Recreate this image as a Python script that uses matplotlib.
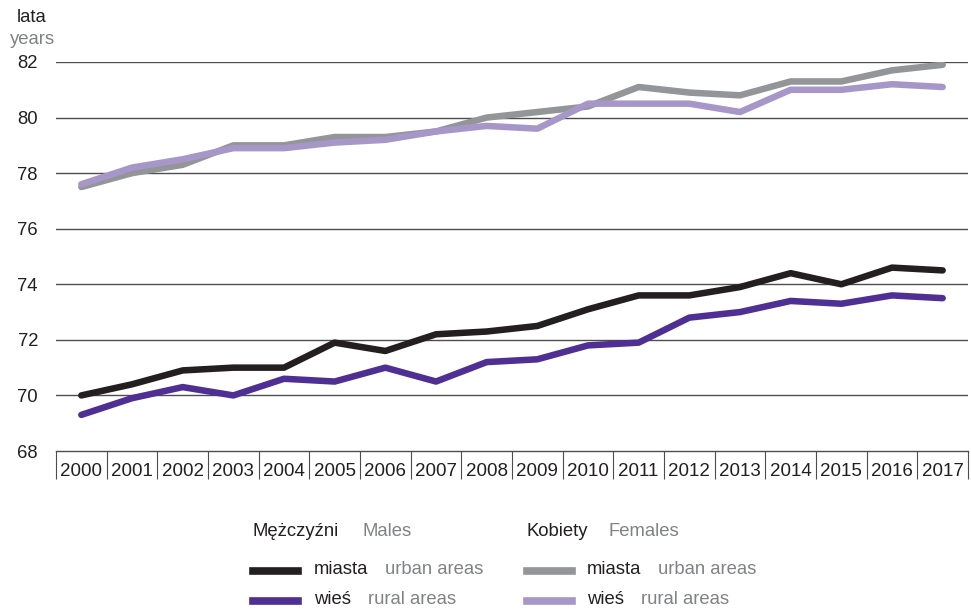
import matplotlib
matplotlib.use("Agg")
import matplotlib.pyplot as plt
from matplotlib.lines import Line2D
import numpy as np

years = ["2000", "2001", "2002", "2003", "2004", "2005", "2006", "2007", "2008",
         "2009", "2010", "2011", "2012", "2013", "2014", "2015", "2016", "2017"]
females_urban = [77.5, 78.0, 78.3, 79.0, 79.0, 79.3, 79.3, 79.5, 80.0, 80.2,
                 80.4, 81.1, 80.9, 80.8, 81.3, 81.3, 81.7, 81.9]
females_rural = [77.6, 78.2, 78.5, 78.9, 78.9, 79.1, 79.2, 79.5, 79.7, 79.6,
                 80.5, 80.5, 80.5, 80.2, 81.0, 81.0, 81.2, 81.1]
males_urban = [70.0, 70.4, 70.9, 71.0, 71.0, 71.9, 71.6, 72.2, 72.3, 72.5,
               73.1, 73.6, 73.6, 73.9, 74.4, 74.0, 74.6, 74.5]
males_rural = [69.3, 69.9, 70.3, 70.0, 70.6, 70.5, 71.0, 70.5, 71.2, 71.3,
               71.8, 71.9, 72.8, 73.0, 73.4, 73.3, 73.6, 73.5]
yticks = [68, 70, 72, 74, 76, 78, 80, 82]

C_BLACK = "#231f20"
C_PURPLE = "#4f2f94"
C_GRAY = "#939598"
C_LAV = "#a797c9"
C_TXTGRAY = "#808285"

plt.rcParams['font.family'] = ['Liberation Sans', 'DejaVu Sans']

W, H = 971, 613
fig = plt.figure(figsize=(W / 100, H / 100), dpi=100)
ax = fig.add_axes([56 / W, 1 - 451 / H, (968 - 56) / W, (451 - 62) / H])

x = np.arange(len(years))
lw = 4.7
ax.plot(x, females_urban, color=C_GRAY, lw=lw, solid_capstyle='round', solid_joinstyle='round', zorder=3)
ax.plot(x, females_rural, color=C_LAV, lw=lw, solid_capstyle='round', solid_joinstyle='round', zorder=4)
ax.plot(x, males_urban, color=C_BLACK, lw=lw, solid_capstyle='round', solid_joinstyle='round', zorder=4)
ax.plot(x, males_rural, color=C_PURPLE, lw=lw, solid_capstyle='round', solid_joinstyle='round', zorder=3)

ax.set_xlim(-0.5, len(years) - 0.5)
ax.set_ylim(68, 82)
ax.set_yticks(yticks)
ax.set_yticklabels([str(v) for v in yticks], fontsize=13.3, color=C_BLACK)
ax.tick_params(axis='y', length=0, pad=13)
for v in yticks[1:]:
    ax.axhline(v, color="#4d4d4f", lw=1.0, zorder=1)

ax.set_xticks(x)
ax.set_xticklabels(years, fontsize=13.5, color=C_BLACK)
ax.tick_params(axis='x', which='major', length=0, pad=9)
ax.set_xticks(np.arange(-0.5, len(years), 1.0), minor=True)
ax.tick_params(axis='x', which='minor', length=20, width=0.8, color="#4d4d4f", direction='out')

for s in ['top', 'right', 'left']:
    ax.spines[s].set_visible(False)
ax.spines['bottom'].set_color("#4d4d4f")
ax.spines['bottom'].set_linewidth(1.0)

def fx(px):
    return px / W

def fy(py):
    return 1 - py / H

fs = 13.3
fig.text(fx(32), fy(17), "lata", fontsize=fs, color=C_BLACK, ha='center', va='center')
fig.text(fx(33), fy(39), "years", fontsize=fs, color=C_TXTGRAY, ha='center', va='center')

# Legend headers
fig.text(fx(253), fy(532), "Mężczyźni", fontsize=fs, color=C_BLACK, va='center')
fig.text(fx(362), fy(532), "Males", fontsize=fs, color=C_TXTGRAY, va='center')
fig.text(fx(527), fy(532), "Kobiety", fontsize=fs, color=C_BLACK, va='center')
fig.text(fx(608), fy(532), "Females", fontsize=fs, color=C_TXTGRAY, va='center')

entries = [
    (253, 571, C_BLACK, "miasta", 314, "urban areas", 385),
    (253, 601, C_PURPLE, "wieś", 314, "rural areas", 368),
    (527, 571, C_GRAY, "miasta", 587, "urban areas", 658),
    (527, 601, C_LAV, "wieś", 587, "rural areas", 641),
]
for x0, y0, col, pl, xpl, en, xen in entries:
    fig.add_artist(Line2D([fx(x0), fx(x0 + 45)], [fy(y0), fy(y0)], color=col, lw=5.5,
                          transform=fig.transFigure))
    fig.text(fx(xpl), fy(y0 - 1), pl, fontsize=fs, color=C_BLACK, va='center')
    fig.text(fx(xen), fy(y0 - 1), en, fontsize=fs, color=C_TXTGRAY, va='center')

fig.savefig("out.png", dpi=100)
